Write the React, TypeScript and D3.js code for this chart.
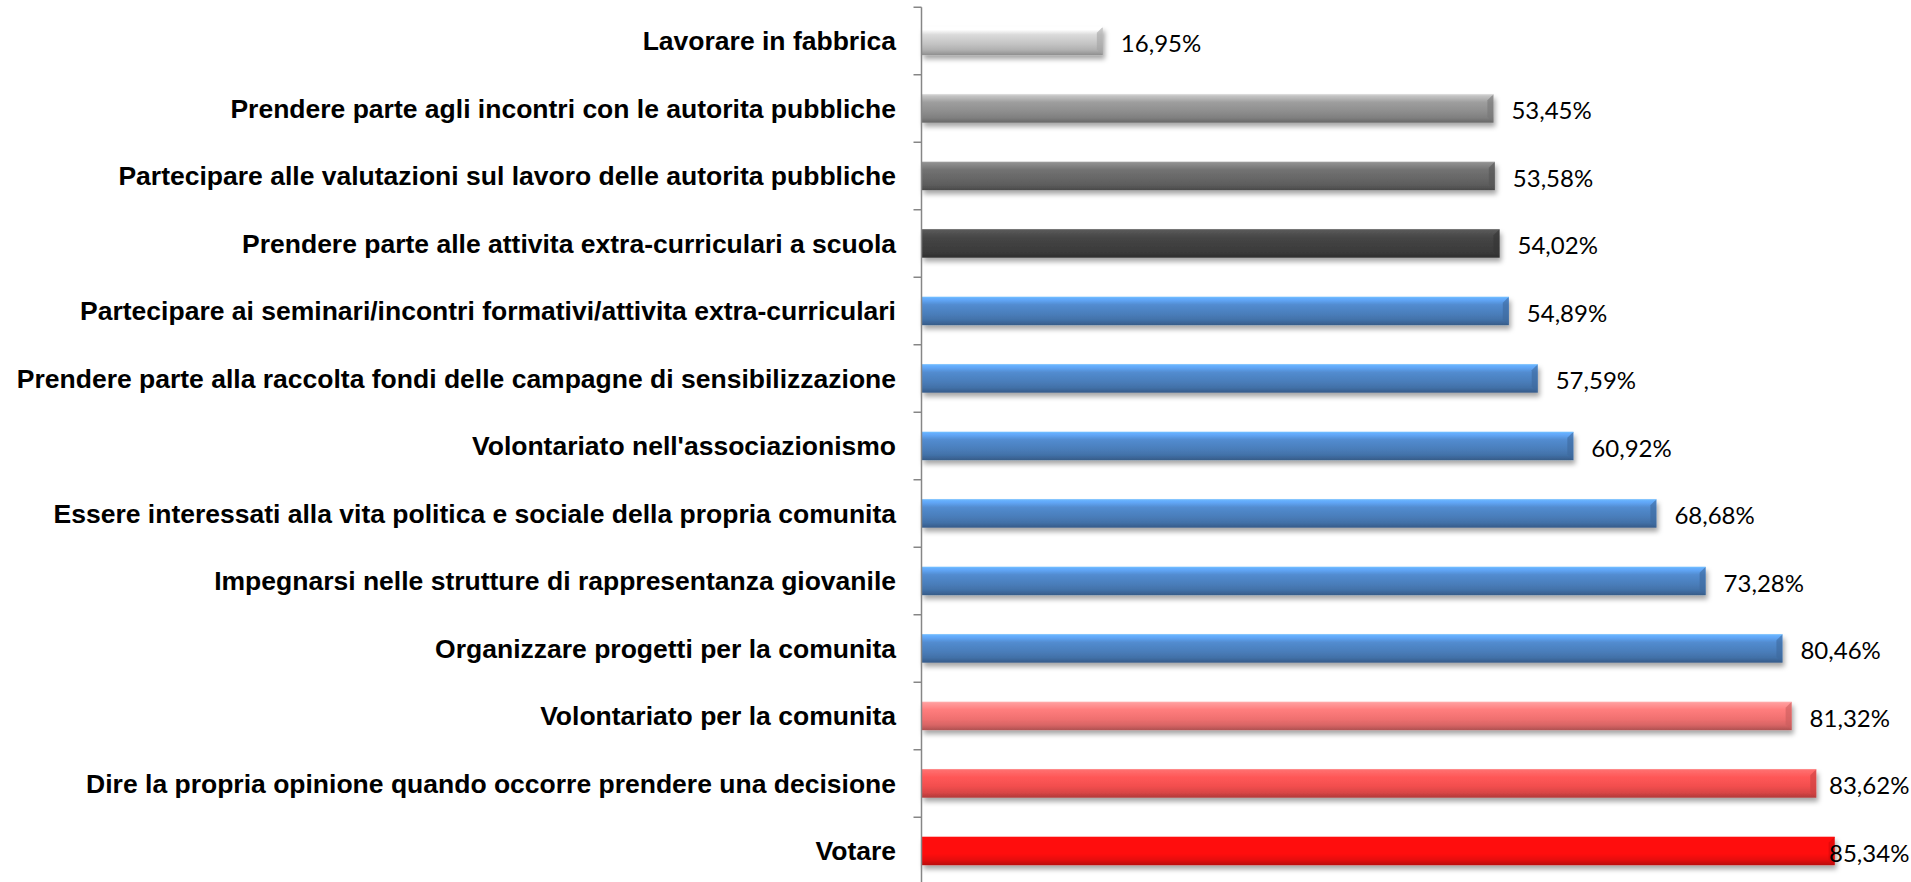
import * as d3 from 'd3';

const categories = [
  'Lavorare in fabbrica',
  'Prendere parte agli incontri con le autorita pubbliche',
  'Partecipare alle valutazioni sul lavoro delle autorita pubbliche',
  'Prendere parte alle attivita extra-curriculari a scuola',
  'Partecipare ai seminari/incontri formativi/attivita extra-curriculari',
  'Prendere parte alla raccolta fondi delle campagne di sensibilizzazione',
  "Volontariato nell'associazionismo",
  'Essere interessati alla vita politica e sociale della propria comunita',
  'Impegnarsi nelle strutture di rappresentanza giovanile',
  'Organizzare progetti per la comunita',
  'Volontariato per la comunita',
  'Dire la propria opinione quando occorre prendere una decisione',
  'Votare',
];

const values = [16.95, 53.45, 53.58, 54.02, 54.89, 57.59, 60.92, 68.68, 73.28, 80.46, 81.32, 83.62, 85.34];

// one base colour per bar, top to bottom
const palette = [
  '#c4c4c4', '#8e8e8e', '#666666', '#3f3f3f',
  '#4a7ebb', '#4a7ebb', '#4a7ebb', '#4a7ebb', '#4a7ebb', '#4a7ebb',
  '#f07070', '#f24e4e', '#ff0a0a',
];

const W = 1911;
const H = 882;
const axisX = 921.5;
const top = 7.25;
const band = 67.5;

export default function App() {
  const x = d3.scaleLinear().domain([0, 90]).range([axisX, axisX + 90 * 10.7]);
  const y = d3
    .scaleBand<string>()
    .domain(categories)
    .range([top, top + band * categories.length])
    .paddingInner(0.58)
    .paddingOuter(0.29);

  const fmt = (v: number) => v.toFixed(2).replace('.', ',') + '%';

  return (
    <svg
      width={W}
      height={H}
      style={{ position: 'absolute', left: 0, top: 0, background: '#fff' }}
    >
      <defs>
        <filter id="shadow" x="-5%" y="-50%" width="110%" height="220%">
          <feDropShadow dx="2" dy="4" stdDeviation="2.5" floodColor="#000" floodOpacity="0.35" />
        </filter>
        {palette.map((c, i) => {
          const base = d3.color(c)!;
          return (
            <linearGradient key={i} id={`g${i}`} x1="0" y1="0" x2="0" y2="1">
              <stop offset="0" stopColor={base.brighter(1.0).formatHex()} />
              <stop offset="0.1" stopColor={base.brighter(0.8).formatHex()} />
              <stop offset="0.28" stopColor={base.brighter(0.3).formatHex()} />
              <stop offset="0.6" stopColor={base.formatHex()} />
              <stop offset="0.82" stopColor={base.darker(0.3).formatHex()} />
              <stop offset="1" stopColor={base.darker(0.9).formatHex()} />
            </linearGradient>
          );
        })}
      </defs>

      {/* bars */}
      {categories.map((cat, i) => {
        const y0 = y(cat)!;
        const h = y.bandwidth();
        const x1 = x(values[i]);
        const base = d3.color(palette[i])!;
        return (
          <g key={cat}>
            <rect
              x={axisX}
              y={y0}
              width={x1 - axisX}
              height={h}
              fill={`url(#g${i})`}
              filter="url(#shadow)"
            />
            {/* right bevel */}
            <polygon
              points={`${x1 - 6},${y0 + 6} ${x1},${y0} ${x1},${y0 + h} ${x1 - 6},${y0 + h - 6}`}
              fill={base.darker(0.5).formatHex()}
              opacity={0.6}
            />
            <line
              x1={axisX}
              x2={x1}
              y1={y0 + 0.5}
              y2={y0 + 0.5}
              stroke={base.brighter(1.2).formatHex()}
              strokeOpacity={0.7}
            />
          </g>
        );
      })}

      {/* axis */}
      <line x1={axisX} x2={axisX} y1={top} y2={top + band * categories.length} stroke="#868686" strokeWidth={1.5} />
      {d3.range(categories.length + 1).map((k) => (
        <line
          key={k}
          x1={axisX - 8}
          x2={axisX}
          y1={top + k * band}
          y2={top + k * band}
          stroke="#868686"
          strokeWidth={1.5}
        />
      ))}

      {/* category labels */}
      {categories.map((cat) => (
        <text
          key={cat}
          x={896}
          y={y(cat)! + y.bandwidth() / 2}
          textAnchor="end"
          dominantBaseline="central"
          fontFamily="'Liberation Sans', Arial, sans-serif"
          fontWeight="bold"
          fontSize={26.5}
          fill="#000"
        >
          {cat}
        </text>
      ))}

      {/* value labels */}
      {categories.map((cat, i) => {
        const lw = 78;
        const lx = Math.min(x(values[i]) + 18, 1907 - lw);
        return (
          <text
            key={cat}
            x={lx}
            y={y(cat)! + y.bandwidth() / 2 + 1}
            dominantBaseline="central"
            fontFamily="Lato, 'Open Sans', sans-serif"
            fontSize={24}
            fill="#000"
          >
            {fmt(values[i])}
          </text>
        );
      })}
    </svg>
  );
}
